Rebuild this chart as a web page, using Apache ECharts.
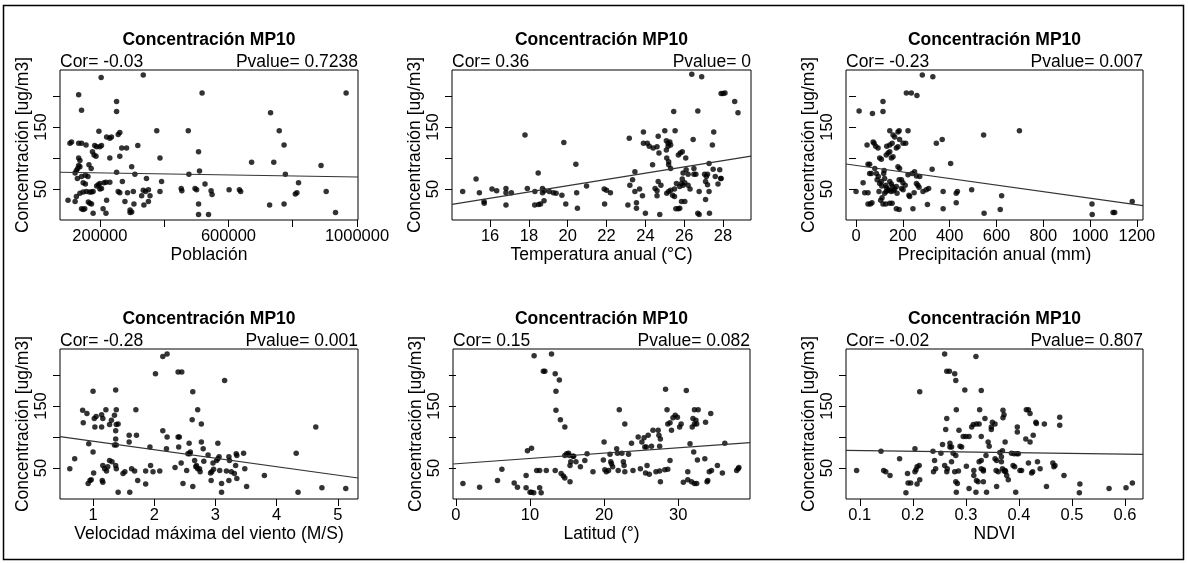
<!DOCTYPE html>
<html><head><meta charset="utf-8">
<script src="https://cdn.jsdelivr.net/npm/echarts@6/dist/echarts.min.js"></script>
<style>html,body{margin:0;padding:0;background:#fff}#c{width:1188px;height:563px}</style>
</head><body><div id="c"></div>
<script>
// ---------- DATA (x, concentración MP10) ----------
const popData=[[134000,202],[204000,230],[335000,234],[518000,205],[966000,205],[252000,191],[252000,175],[143000,177],[731000,173],[758000,144],[377000,144],[197000,143],[475000,144],[262000,141],[257000,138],[221000,134],[231000,132],[236000,134],[107000,124],[112000,126],[134000,124],[143000,124],[157000,121],[184000,120],[190000,118],[200000,118],[205000,120],[268000,116],[283000,116],[318000,120],[507000,110],[773000,121],[177000,110],[182000,105],[188000,103],[262000,103],[387000,100],[672000,93],[741000,93],[231000,100],[134000,100],[138000,96],[134000,88],[138000,86],[131000,83],[166000,89],[299000,86],[173000,83],[888000,88],[127000,80],[123000,76],[252000,77],[309000,74],[477000,74],[510000,79],[777000,74],[143000,70],[155000,72],[163000,70],[130000,67],[345000,67],[270000,62],[231000,61],[219000,61],[213000,60],[200000,59],[392000,62],[527000,58],[148000,60],[155000,58],[818000,60],[195000,57],[190000,55],[205000,51],[200000,50],[158000,46],[148000,45],[138000,43],[168000,45],[174000,45],[179000,46],[453000,51],[455000,47],[496000,51],[501000,49],[546000,47],[549000,41],[602000,49],[634000,49],[638000,46],[813000,44],[808000,42],[904000,46],[257000,46],[262000,44],[286000,44],[304000,46],[335000,48],[342000,46],[351000,49],[356000,39],[387000,46],[330000,39],[101000,32],[127000,38],[123000,30],[164000,29],[169000,27],[174000,26],[221000,32],[278000,30],[306000,26],[337000,24],[351000,30],[507000,26],[728000,24],[773000,26],[143000,18],[153000,18],[148000,17],[210000,18],[294000,16],[299000,13],[294000,12],[179000,11],[219000,11],[507000,9],[538000,9],[933000,12]];
const tempData=[[14.59,46],[15.28,66],[15.45,44],[15.69,30],[15.7,27],[16.1,50],[16.34,47],[16.82,51],[16.82,44],[16.82,24],[17.1,44],[17.8,137],[17.92,51],[18.31,46],[18.48,76],[18.3,24],[18.5,25],[18.6,26],[18.7,51],[18.8,47],[18.7,44],[18.78,31],[19.05,46],[19.26,44],[19.4,43],[19.7,40],[19.8,125],[19.9,26],[20.42,90],[20.46,44],[20.5,19],[20.97,55],[21.88,50],[22.0,48],[22.2,44],[21.9,26],[23.17,132],[23.2,56],[23.34,65],[23.1,24],[23.46,78],[23.46,46],[23.54,28],[23.54,19],[23.9,142],[23.9,124],[24.1,124],[23.85,39],[24.0,11],[24.2,119],[24.4,116],[24.6,118],[24.37,89],[24.5,51],[24.6,47],[24.6,39],[24.66,135],[24.7,108],[24.66,62],[24.74,9],[25.0,144],[25.08,128],[25.17,124],[25.26,126],[25.08,113],[25.17,119],[25.3,121],[25.1,100],[25.2,94],[25.3,83],[25.2,89],[25.1,43],[25.2,46],[25.4,40],[25.5,38],[25.46,175],[25.53,144],[25.7,105],[25.8,108],[25.9,110],[25.6,59],[25.77,54],[25.86,59],[25.94,56],[26.03,60],[25.57,18],[25.7,18],[25.77,19],[25.86,30],[26.03,30],[25.94,76],[26.08,100],[26.1,81],[26.2,74],[26.39,235],[26.46,130],[26.5,83],[26.5,74],[26.6,74],[26.7,176],[26.77,46],[26.7,11],[26.77,9],[26.9,231],[27.05,74],[27.14,70],[27.2,74],[27.1,62],[27.2,57],[27.1,33],[27.28,46],[27.28,91],[27.3,11],[27.45,121],[27.52,142],[27.49,82],[27.6,70],[27.74,58],[27.83,81],[27.88,67],[27.9,67],[27.9,204],[28.0,204],[28.1,205],[28.6,191],[28.77,173],[25.5,50],[25.3,48],[24.8,56],[23.7,50],[26.3,50],[25.9,66],[26.2,56]];
const precipData=[[0,46],[13,176],[30,60],[37,44],[51,44],[47,121],[51,90],[58,90],[51,26],[61,26],[68,28],[58,75],[65,75],[70,172],[73,126],[77,124],[80,83],[87,75],[90,65],[84,119],[94,116],[98,46],[101,59],[108,62],[101,100],[108,98],[105,32],[111,36],[115,191],[115,175],[115,26],[127,26],[118,75],[122,67],[127,56],[122,43],[129,46],[137,49],[129,105],[137,108],[144,110],[131,119],[144,121],[154,124],[144,62],[151,58],[155,54],[144,27],[154,27],[151,100],[158,102],[144,144],[158,137],[165,134],[172,54],[175,43],[172,18],[184,17],[172,116],[179,118],[179,142],[184,144],[179,86],[186,83],[184,65],[194,65],[186,130],[201,124],[212,124],[194,51],[201,49],[215,205],[236,205],[222,144],[222,73],[226,40],[229,38],[240,75],[250,78],[243,18],[248,44],[260,201],[258,59],[264,56],[269,53],[272,70],[258,71],[283,234],[286,46],[300,49],[310,51],[305,25],[325,82],[328,231],[343,124],[368,130],[372,46],[372,18],[404,91],[428,43],[433,46],[428,28],[494,49],[545,137],[547,11],[616,17],[622,39],[698,144],[1008,26],[1009,9],[1098,12],[1105,12],[1180,30],[140,48],[150,46],[160,47],[165,50],[130,52],[110,55],[95,70],[120,80],[200,60],[210,56]];
const windData=[[0.62,49],[0.70,65],[0.83,143],[0.84,123],[0.90,138],[0.93,89],[0.92,25],[0.95,30],[0.97,31],[1.0,174],[1.02,130],[1.05,133],[1.03,116],[1.0,76],[1.01,42],[1.14,136],[1.16,130],[1.14,116],[1.21,144],[1.16,54],[1.19,49],[1.22,45],[1.24,52],[1.15,30],[1.16,27],[1.27,120],[1.30,127],[1.27,62],[1.31,60],[1.35,87],[1.38,87],[1.37,176],[1.38,144],[1.35,135],[1.38,120],[1.41,121],[1.37,110],[1.37,97],[1.38,49],[1.37,54],[1.41,11],[1.49,41],[1.52,44],[1.59,103],[1.59,92],[1.60,11],[1.63,49],[1.68,45],[1.70,144],[1.71,103],[1.73,30],[1.86,45],[1.86,24],[1.93,84],[1.94,54],[1.98,44],[2.02,202],[2.09,45],[2.14,230],[2.21,234],[2.14,110],[2.21,100],[2.20,81],[2.34,51],[2.39,205],[2.45,205],[2.39,100],[2.41,100],[2.40,84],[2.44,58],[2.47,25],[2.55,73],[2.58,73],[2.59,76],[2.57,90],[2.53,46],[2.62,128],[2.63,173],[2.63,20],[2.66,62],[2.69,54],[2.71,49],[2.68,52],[2.71,144],[2.74,49],[2.75,44],[2.77,121],[2.77,92],[2.80,81],[2.81,61],[2.88,71],[2.92,42],[2.94,44],[2.96,58],[2.93,30],[2.97,48],[3.04,90],[3.02,62],[3.04,65],[3.06,68],[3.07,46],[3.10,25],[3.10,11],[3.15,191],[3.18,45],[3.22,68],[3.23,62],[3.22,30],[3.26,44],[3.31,41],[3.33,54],[3.34,73],[3.35,70],[3.35,33],[3.46,74],[3.48,49],[3.51,20],[3.80,38],[4.32,74],[4.35,11],[4.64,116],[4.74,18],[5.13,17]];
const latData=[[0.94,25],[3.19,19],[5.61,30],[6.2,48],[7.86,26],[8.3,19],[9.47,38],[9.47,18],[9.65,78],[10.2,82],[10.0,11],[10.2,11],[10.5,10],[10.55,231],[10.9,46],[11.3,46],[11.3,18],[11.5,10],[11.8,206],[12.0,206],[12.2,46],[12.9,234],[13.4,202],[13.5,174],[13.5,143],[13.96,192],[14.1,128],[13.4,46],[14.2,41],[14.5,37],[14.7,34],[14.7,116],[14.7,70],[14.95,73],[15.2,74],[15.3,70],[15.4,54],[15.5,60],[15.4,28],[15.8,69],[15.9,69],[16.2,60],[16.8,52],[17.4,62],[17.7,73],[18.5,44],[19.9,63],[20.0,92],[20.1,47],[20.3,44],[20.6,46],[20.8,72],[20.9,60],[21.0,57],[21.15,52],[21.7,81],[21.8,74],[21.9,46],[22.05,144],[22.4,74],[22.6,60],[22.7,54],[22.8,44],[22.8,121],[23.3,72],[23.7,90],[23.9,46],[24.6,100],[25.1,92],[25.4,99],[24.9,49],[25.5,84],[25.7,84],[25.6,42],[25.8,54],[26.1,40],[25.95,103],[26.4,85],[26.6,111],[27.0,44],[27.3,111],[27.4,103],[27.6,97],[27.5,85],[27.6,28],[27.5,45],[28.2,47],[28.6,48],[28.3,177],[28.6,121],[28.5,144],[28.9,62],[28.9,123],[29.1,111],[29.3,131],[29.6,135],[29.9,132],[30.2,116],[30.4,121],[30.7,27],[31.1,175],[31.3,44],[31.3,31],[31.6,89],[31.8,28],[32.2,25],[32.5,25],[31.9,116],[32.0,130],[32.4,127],[32.2,121],[32.1,76],[32.2,144],[32.7,144],[32.5,121],[32.6,63],[33.6,65],[33.7,124],[33.9,28],[34.0,30],[34.2,44],[34.5,46],[34.4,138],[35.3,54],[35.97,42],[36.3,90],[37.9,46],[38.1,49],[38.2,51]];
const ndviData=[[0.094,46],[0.140,77],[0.145,46],[0.149,44],[0.157,38],[0.175,65],[0.187,10],[0.190,41],[0.191,26],[0.196,26],[0.204,81],[0.204,44],[0.206,47],[0.208,52],[0.212,54],[0.208,24],[0.213,173],[0.213,31],[0.238,77],[0.239,44],[0.243,49],[0.241,62],[0.253,74],[0.256,88],[0.260,234],[0.262,112],[0.264,130],[0.264,206],[0.269,206],[0.260,54],[0.265,49],[0.264,44],[0.270,90],[0.270,84],[0.273,84],[0.273,60],[0.279,202],[0.281,191],[0.282,144],[0.276,74],[0.281,70],[0.279,44],[0.286,45],[0.281,28],[0.284,25],[0.282,11],[0.287,111],[0.289,85],[0.292,84],[0.298,176],[0.295,101],[0.300,101],[0.306,101],[0.301,53],[0.306,17],[0.311,116],[0.314,120],[0.320,121],[0.325,121],[0.315,46],[0.315,38],[0.319,230],[0.319,11],[0.320,30],[0.323,28],[0.325,60],[0.329,62],[0.326,144],[0.329,175],[0.329,101],[0.329,49],[0.333,47],[0.333,45],[0.336,130],[0.333,28],[0.339,11],[0.338,70],[0.342,92],[0.344,85],[0.348,116],[0.348,112],[0.350,124],[0.355,121],[0.355,65],[0.358,62],[0.357,46],[0.361,44],[0.358,20],[0.364,75],[0.367,68],[0.367,60],[0.369,78],[0.369,49],[0.372,45],[0.374,46],[0.370,143],[0.372,136],[0.370,131],[0.374,92],[0.375,44],[0.377,38],[0.380,31],[0.386,74],[0.389,54],[0.392,52],[0.391,73],[0.396,73],[0.399,73],[0.394,11],[0.397,116],[0.397,108],[0.402,46],[0.405,46],[0.413,97],[0.414,144],[0.418,144],[0.418,58],[0.421,92],[0.421,138],[0.424,42],[0.426,44],[0.427,103],[0.432,124],[0.433,122],[0.435,60],[0.440,49],[0.448,121],[0.452,20],[0.464,58],[0.466,52],[0.468,54],[0.477,132],[0.477,119],[0.485,38],[0.514,10],[0.515,24],[0.570,17],[0.602,18],[0.614,26]];

// fitted regression lines (value at left and right end of each x range)
const fitPop=[[76000,77],[1003000,69.4]];
const fitTemp=[[14.04,25.3],[29.44,103.2]];
const fitPrecip=[[-43,90.3],[1226,23.1]];
const fitWind=[[0.46,100.5],[5.33,33.9]];
const fitLat=[[-0.4,56.5],[39.7,90.9]];
const fitNdvi=[[0.074,78.5],[0.634,72.0]];

const xMins=[76000,14.04,-43,0.46,-0.4,0.074];
const xMaxs=[1003000,29.44,1226,5.33,39.7,0.634];
const xTickVals=[[200000,400000,600000,800000,1000000],[16,18,20,22,24,26,28],[0,200,400,600,800,1000,1200],[1,2,3,4,5],[0,10,20,30],[0.1,0.2,0.3,0.4,0.5,0.6]];
const xLabelVals=[[200000,600000,1000000],[16,18,20,22,24,26,28],[0,200,400,600,800,1000,1200],[1,2,3,4,5],[0,10,20,30],[0.1,0.2,0.3,0.4,0.5,0.6]];
const yTickVals=[50,100,150,200];
const yLabelVals=[50,150];
const yMin=0, yMax=242;

const xNames=['Población','Temperatura anual (°C)','Precipitación anual (mm)','Velocidad máxima del viento (M/S)','Latitud (°)','NDVI'];
const corTexts=['Cor= -0.03','Cor= 0.36','Cor= -0.23','Cor= -0.28','Cor= 0.15','Cor= -0.02'];
const pvalTexts=['Pvalue= 0.7238','Pvalue= 0','Pvalue= 0.007','Pvalue= 0.001','Pvalue= 0.082','Pvalue= 0.807'];
const panelTitle='Concentración MP10';
const yName='Concentración [ug/m3]';

const datasets=[popData,tempData,precipData,windData,latData,ndviData];
const fits=[fitPop,fitTemp,fitPrecip,fitWind,fitLat,fitNdvi];

// ---------- LAYOUT ----------
const FONT='"Liberation Sans", Arial, sans-serif';
const grids=[
 {left:60,top:70,width:298,height:150},
 {left:452,top:70,width:299,height:150},
 {left:846,top:70,width:297,height:150},
 {left:60,top:349,width:298,height:150},
 {left:453,top:349,width:297,height:150},
 {left:846,top:349,width:297,height:150}
];

const chart=echarts.init(document.getElementById('c'),null,{renderer:'canvas'});
const option={
 animation:false,
 backgroundColor:'#fff',
 grid:grids.map(g=>Object.assign({show:true,borderColor:'#000',borderWidth:1,backgroundColor:'transparent'},g)),
 xAxis:grids.map((g,i)=>({
   type:'value',gridIndex:i,min:xMins[i],max:xMaxs[i],
   name:xNames[i],nameLocation:'middle',nameGap:25,
   nameTextStyle:{fontFamily:FONT,fontSize:17.5,color:'#000'},
   axisLine:{show:false},
   splitLine:{show:false},
   axisTick:{show:true,inside:false,length:7,lineStyle:{color:'#000',width:1},customValues:xTickVals[i]},
   axisLabel:{show:true,margin:8,color:'#000',fontFamily:FONT,fontSize:16.5,customValues:xLabelVals[i],hideOverlap:false,formatter:v=>String(v)}
 })),
 yAxis:grids.map((g,i)=>({
   type:'value',gridIndex:i,min:yMin,max:yMax,
   name:yName,nameLocation:'middle',nameGap:26,nameRotate:90,
   nameTextStyle:{fontFamily:FONT,fontSize:17.5,color:'#000'},
   axisLine:{show:false},
   splitLine:{show:false},
   axisTick:{show:true,inside:false,length:7,lineStyle:{color:'#000',width:1},customValues:yTickVals},
   axisLabel:{show:true,rotate:90,margin:10,color:'#000',fontFamily:FONT,fontSize:16.5,customValues:yLabelVals,hideOverlap:false,formatter:v=>String(v)}
 })),
 series:[].concat(
   datasets.map((d,i)=>({type:'scatter',xAxisIndex:i,yAxisIndex:i,data:d,symbol:'circle',symbolSize:5.5,itemStyle:{color:'#000'},silent:true})),
   fits.map((f,i)=>({type:'line',xAxisIndex:i,yAxisIndex:i,data:f,showSymbol:false,lineStyle:{color:'#333',width:1.2},silent:true}))
 ),
 graphic:[].concat(
   grids.map((g,i)=>({type:'text',x:g.left+g.width/2,y:g.top-30,style:{text:panelTitle,font:'bold 17.5px '+FONT,fill:'#000',align:'center',verticalAlign:'middle'}})),
   grids.map((g,i)=>({type:'text',x:g.left,y:g.top-8,style:{text:corTexts[i],font:'17.5px '+FONT,fill:'#000',align:'left',verticalAlign:'middle'}})),
   grids.map((g,i)=>({type:'text',x:g.left+g.width,y:g.top-8,style:{text:pvalTexts[i],font:'17.5px '+FONT,fill:'#000',align:'right',verticalAlign:'middle'}})),
   [{type:'rect',shape:{x:3.5,y:5.5,width:1180,height:554},style:{fill:'none',stroke:'#000',lineWidth:1.5}}]
 )
};
chart.setOption(option);
</script></body></html>
